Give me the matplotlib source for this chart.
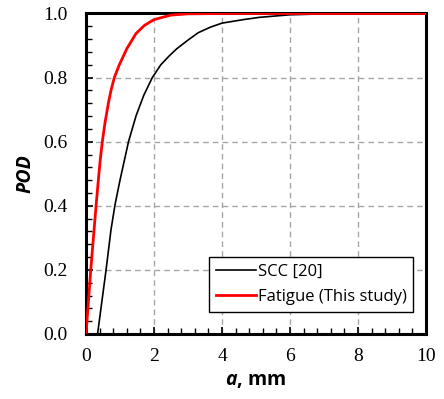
import matplotlib
matplotlib.use("Agg")
import matplotlib.pyplot as plt
from matplotlib.ticker import MultipleLocator, FormatStrFormatter

plt.rcParams["mathtext.fontset"] = "custom"
plt.rcParams["mathtext.bfit"] = "Open Sans:bold:italic"
plt.rcParams["mathtext.bf"] = "Open Sans:bold"
plt.rcParams["mathtext.it"] = "Open Sans:italic"
plt.rcParams["mathtext.rm"] = "Open Sans"

# Data
scc_a = [0.34, 0.44, 0.59, 0.735, 0.853, 1.0, 1.25, 1.47, 1.7, 1.95, 2.2, 2.45, 2.67, 3.0, 3.3, 3.65, 4.0, 4.63, 5.1, 6.0, 7.0, 8.0, 10.0]
scc_pod = [0.0, 0.08, 0.2, 0.325, 0.403, 0.48, 0.6, 0.68, 0.745, 0.8, 0.84, 0.868, 0.89, 0.917, 0.94, 0.957, 0.97, 0.981, 0.988, 0.996, 0.999, 1.0, 1.0]

fat_a = [0.0, 0.07, 0.14, 0.21, 0.28, 0.35, 0.42, 0.48, 0.56, 0.667, 0.735, 0.833, 0.98, 1.2, 1.47, 1.72, 2.0, 2.5, 3.0, 4.0, 10.0]
fat_pod = [0.0, 0.1, 0.2, 0.29, 0.38, 0.465, 0.545, 0.6, 0.66, 0.725, 0.76, 0.8, 0.84, 0.89, 0.9375, 0.963, 0.981, 0.995, 0.999, 1.0, 1.0]

labels = ["SCC [20]", "Fatigue (This study)"]

fig = plt.figure(figsize=(4.44, 3.99), dpi=100)
ax = fig.add_axes([86/444, 65/399, 340/444, 320.5/399])

ax.plot(scc_a, scc_pod, color="black", lw=1.2, label=labels[0], zorder=3,
        solid_joinstyle="round")
ax.plot(fat_a, fat_pod, color="#ff0000", lw=2.0, label=labels[1], zorder=3,
        solid_joinstyle="round")

ax.set_xlim(0, 10)
ax.set_ylim(0, 1.0)
ax.xaxis.set_major_locator(MultipleLocator(2))
ax.xaxis.set_minor_locator(MultipleLocator(0.4))
ax.yaxis.set_major_locator(MultipleLocator(0.2))
ax.yaxis.set_minor_locator(MultipleLocator(0.04))
ax.yaxis.set_major_formatter(FormatStrFormatter("%.1f"))

ax.grid(True, which="major", color="#a6a6a6", linestyle=(0, (4, 3)), linewidth=1.0, zorder=1)

for s in ax.spines.values():
    s.set_linewidth(2.2)
    s.set_color("black")

ax.tick_params(which="both", direction="in", top=False, right=False, color="black")
ax.tick_params(which="major", length=5, width=1.2, labelsize=14,
               labelfontfamily="Liberation Serif")
ax.tick_params(which="minor", length=4, width=1.0)
ax.tick_params(axis="y", which="major", pad=13)
ax.tick_params(axis="x", which="major", pad=10)

ax.set_ylabel("POD", fontfamily="Open Sans", fontweight="bold", fontstyle="italic", fontsize=14, labelpad=6)
ax.set_xlabel(r"$\mathbfit{a}$, mm", fontfamily="Open Sans", fontweight="bold", fontsize=14, labelpad=4)

leg = ax.legend(loc="lower right", bbox_to_anchor=(0.962, 0.069), borderaxespad=0,
                frameon=True, fancybox=False,
                edgecolor="black", framealpha=1, handlelength=2.4, handletextpad=0.1,
                borderpad=0.4, labelspacing=0.55, prop={"family": "Open Sans", "size": 12})
leg.get_frame().set_linewidth(1.0)
leg.set_zorder(5)

fig.savefig("out.png", dpi=100)
